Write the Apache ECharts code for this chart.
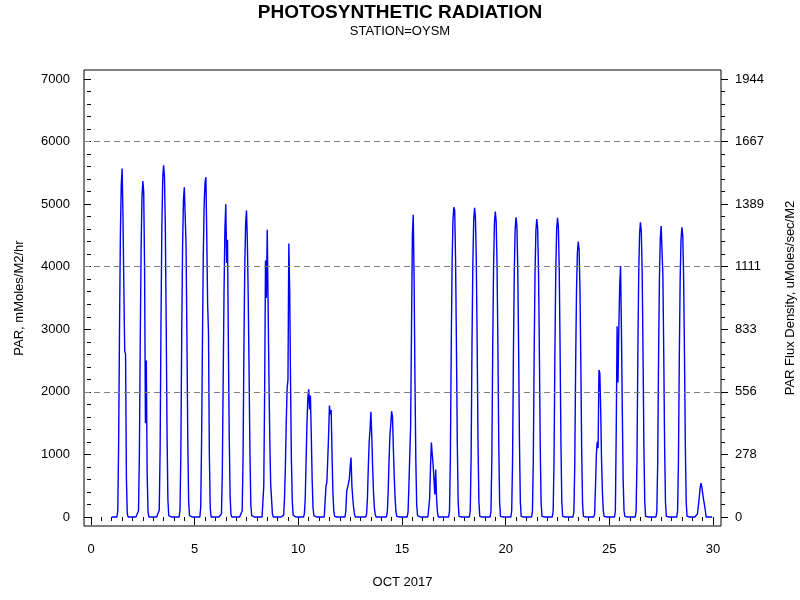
<!DOCTYPE html>
<html><head><meta charset="utf-8">
<script src="https://cdn.jsdelivr.net/npm/echarts@6/dist/echarts.min.js"></script>
<style>html,body{margin:0;padding:0;background:#fff}#c{width:800px;height:600px}</style>
</head><body><div id="c"></div><script>
// Hourly PAR (mMoles/M2/hr), hours 0..23, October 2017
const oct01 = [0,0,0,0,0,0,0, 100,1200,3000,4500,5300,5570,4800,3700,2650,2600,600,50, 0,0,0,0,0];
const oct02 = [0,0,0,0,0,0,0, 100,1000,2800,4300,5100,5370,5200,4000,1500,2500,700,80, 0,0,0,0,0];
const oct03 = [0,0,0,0,0,0,0, 110,1070,3090,4610,5400,5620,5450,4660,3150,1350,280,20, 0,0,0,0,0];
const oct04 = [0,0,0,0,0,0,0, 110,1000,2900,4320,5060,5270,5250,4370,2950,1260,260,20, 0,0,0,0,0];
const oct05 = [0,0,0,0,0,0,0, 160,1200,2800,4200,5000,5350,5430,4500,3400,2950,1000,150, 0,0,0,0,0];
const oct06 = [0,0,0,0,0,0,0, 50,700,2200,3600,4600,5000,4060,4430,2800,1300,350,40, 0,0,0,0,0];
const oct07 = [0,0,0,0,0,0,0, 100,930,2700,4020,4700,4900,4400,3500,2300,1000,200,20, 0,0,0,0,0];
const oct08 = [0,0,0,0,0,0,0, 30,500,2000,4100,3500,4590,3400,2200,1200,520,500,50, 0,0,0,0,0];
const oct09 = [0,0,0,0,0,0,0, 30,300,800,1500,2050,2200,4370,3600,2100,900,250,30, 0,0,0,0,0];
const oct10 = [0,0,0,0,0,0,0, 50,300,900,1500,1900,2040,1720,1940,1300,600,150,20, 0,0,0,0,0];
const oct11 = [0,0,0,0,0,0,0, 0,500,550,900,1300,1780,1640,1710,1000,400,100,10, 0,0,0,0,0];
const oct12 = [0,0,0,0,0,0,0, 100,420,470,480,600,800,950,500,300,150,40,0, 0,0,0,0,0];
const oct13 = [0,0,0,0,0,0,0, 50,300,800,1200,1400,1680,1300,800,400,150,40,0, 0,0,0,0,0];
const oct14 = [0,0,0,0,0,0,0, 80,400,900,1300,1480,1690,1600,1100,650,300,80,10, 0,0,0,0,0];
const oct15 = [0,0,0,0,0,0,0, 80,500,1000,1450,3000,4500,4830,3800,2200,900,200,20, 0,0,0,0,0];
const oct16 = [0,0,0,0,0,0,0, 30,300,800,1190,1000,840,820,360,760,300,80,0, 0,0,0,0,0];
const oct17 = [0,0,0,0,0,0,0, 100,950,2720,4060,4750,4950,4900,4110,2770,1190,250,10, 0,0,0,0,0];
const oct18 = [0,0,0,0,0,0,0, 100,940,2720,4050,4740,4940,4790,4100,2770,1190,250,10, 0,0,0,0,0];
const oct19 = [0,0,0,0,0,0,0, 100,930,2680,4000,4690,4880,4730,4050,2730,1170,240,10, 0,0,0,0,0];
const oct20 = [0,0,0,0,0,0,0, 100,910,2630,3930,4600,4790,4650,3980,2680,1150,240,10, 0,0,0,0,0];
const oct21 = [0,0,0,0,0,0,0, 100,900,2620,3900,4570,4760,4620,3950,2670,1140,240,10, 0,0,0,0,0];
const oct22 = [0,0,0,0,0,0,0, 100,910,2630,3920,4590,4780,4640,3970,2680,1150,240,10, 0,0,0,0,0];
const oct23 = [0,0,0,0,0,0,0, 90,840,2420,3610,4220,4400,4270,3650,2460,1060,220,10, 0,0,0,0,0];
const oct24 = [0,0,0,0,0,0,0, 50,500,1000,1200,1100,2350,2300,1700,900,400,100,10, 0,0,0,0,0];
const oct25 = [0,0,0,0,0,0,0, 100,1400,3050,2150,3000,3700,4010,3000,1700,600,100,10, 0,0,0,0,0];
const oct26 = [0,0,0,0,0,0,0, 90,890,2590,3860,4520,4710,4570,3910,2640,1130,240,10, 0,0,0,0,0];
const oct27 = [0,0,0,0,0,0,0, 90,880,2560,3810,4460,4650,4620,3860,2600,1120,230,10, 0,0,0,0,0];
const oct28 = [0,0,0,0,0,0,0, 90,880,2550,3800,4440,4630,4490,3840,2590,1110,230,10, 0,0,0,0,0];
const oct29 = [0,0,0,0,0,0,50,170,300,450,540,490,380,285,275,120,0,0,0,0,0,0,0,0];

const dayNumbers = [1,2,3,4,5,6,7,8,9,10,11,12,13,14,15,16,17,18,19,20,21,22,23,24,25,26,27,28,29];
const dayValues = [oct01,oct02,oct03,oct04,oct05,oct06,oct07,oct08,oct09,oct10,oct11,oct12,oct13,oct14,oct15,
                   oct16,oct17,oct18,oct19,oct20,oct21,oct22,oct23,oct24,oct25,oct26,oct27,oct28,oct29];

const xMajorTicks = [0,5,10,15,20,25,30];
const yLeftTicks = [0,1000,2000,3000,4000,5000,6000,7000];
const yRightTickLabels = ['0','278','556','833','1111','1389','1667','1944'];
const gridLineValues = [2000,4000,6000];

const xMinorTicks = []; for (let v = 0; v <= 30; v += 0.5) xMinorTicks.push(v);
const yMinorTicks = []; for (let v = 0; v <= 7000; v += 200) yMinorTicks.push(v);

const seriesData = [];
dayNumbers.forEach((d, i) => dayValues[i].forEach((v, h) => seriesData.push([d + h / 24, v])));

const FONT = 'Liberation Sans, Arial, sans-serif';
const X_MIN = -0.338, X_MAX = 30.386, Y_MIN = -144, Y_MAX = 7144;

const chart = echarts.init(document.getElementById('c'), null, {renderer: 'canvas'});
const lbl = {color: '#000', fontSize: 13, fontFamily: FONT};
function xAx(ticks, len, showLabel) {
  return {type: 'value', position: 'bottom', min: X_MIN, max: X_MAX, offset: 1,
    axisLine: {show: false}, splitLine: {show: false},
    axisTick: {show: true, customValues: ticks, length: len, lineStyle: {color: '#000', width: 1}},
    axisLabel: showLabel ? Object.assign({customValues: ticks, margin: 16}, lbl) : {show: false}};
}
function yAx(pos, ticks, len, labelFmt) {
  return {type: 'value', position: pos, min: Y_MIN, max: Y_MAX,
    axisLine: {show: false}, splitLine: {show: false},
    axisTick: {show: true, customValues: ticks, length: len, lineStyle: {color: '#000', width: 1}},
    axisLabel: labelFmt ? Object.assign({customValues: yLeftTicks, margin: 14, formatter: labelFmt}, lbl) : {show: false}};
}
const xMain = xAx(xMajorTicks, 8, true);
Object.assign(xMain, {name: 'OCT 2017', nameLocation: 'middle', nameGap: 49,
  nameTextStyle: {color: '#000', fontSize: 13, fontFamily: FONT}});
const yLeft = yAx('left', yLeftTicks, 7, v => String(v));
Object.assign(yLeft, {name: 'PAR, mMoles/M2/hr', nameLocation: 'middle', nameGap: 58, nameRotate: 90,
  nameTextStyle: {color: '#000', fontSize: 13, fontFamily: FONT}});
const yRight = yAx('right', yLeftTicks, 7, v => yRightTickLabels[yLeftTicks.indexOf(v)]);
Object.assign(yRight, {name: 'PAR Flux Density, uMoles/sec/M2', nameLocation: 'middle', nameGap: 63, nameRotate: 90,
  nameTextStyle: {color: '#000', fontSize: 13, fontFamily: FONT}});

chart.setOption({
  animation: false,
  backgroundColor: '#fff',
  title: [
    {text: 'PHOTOSYNTHETIC RADIATION', left: 'center', top: -2,
     textStyle: {fontSize: 19, fontWeight: 'bold', color: '#000', fontFamily: FONT}},
    {text: 'STATION=OYSM', left: 'center', top: 20,
     textStyle: {fontSize: 13, fontWeight: 'normal', color: '#000', fontFamily: FONT}}
  ],
  grid: {left: 84, right: 79, top: 70, bottom: 74, show: true, borderColor: '#000', borderWidth: 1,
         backgroundColor: 'transparent', outerBoundsMode: 'none', containLabel: false},
  xAxis: [xMain, xAx(xMinorTicks, 4, false)],
  yAxis: [yLeft, yAx('left', yMinorTicks, 4, null), yRight, yAx('right', yMinorTicks, 4, null)],
  series: [
    {type: 'line', name: 'grid', data: [], xAxisIndex: 0, yAxisIndex: 0, z: 1, silent: true,
     markLine: {silent: true, symbol: 'none', label: {show: false},
       lineStyle: {color: '#808080', type: [6, 4], width: 1},
       data: gridLineValues.map(v => ({yAxis: v}))}},
    {type: 'line', name: 'PAR', data: seriesData, xAxisIndex: 0, yAxisIndex: 0, z: 2,
     showSymbol: false, symbol: 'none', smooth: false,
     lineStyle: {color: '#0000ff', width: 1.4}}
  ]
});
</script></body></html>
